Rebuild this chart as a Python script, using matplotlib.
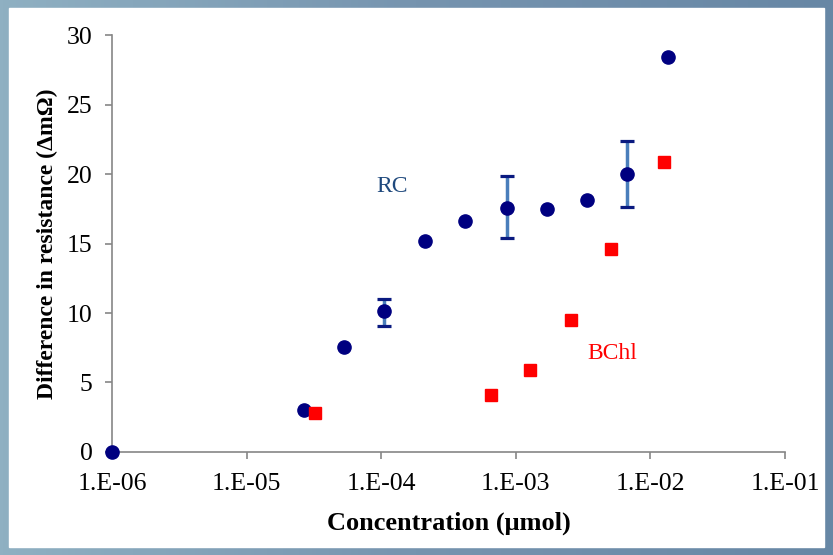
import matplotlib.pyplot as plt
import numpy as np
from matplotlib.patches import Rectangle
from matplotlib.colors import LinearSegmentedColormap

plt.rcParams['font.family'] = ['Liberation Serif', 'DejaVu Serif']

# RC series
rc_conc = [1e-6, 2.67e-5, 5.3e-5, 1.05e-4, 2.1e-4, 4.2e-4, 8.6e-4, 1.7e-3, 3.4e-3, 6.7e-3, 1.35e-2]
rc_resist = [0, 3.0, 7.55, 10.15, 15.2, 16.6, 17.55, 17.45, 18.1, 20.0, 28.45]

# RC error bars (only three points have them)
err_conc = [1.05e-4, 8.6e-4, 6.7e-3]
err_val = [10.15, 17.55, 20.0]
err_low = [1.1, 2.15, 2.4]
err_high = [0.85, 2.3, 2.4]

# BChl series
bchl_conc = [3.2e-5, 6.5e-4, 1.27e-3, 2.57e-3, 5.1e-3, 1.26e-2]
bchl_resist = [2.8, 4.1, 5.9, 9.5, 14.6, 20.9]

xticks = [1e-6, 1e-5, 1e-4, 1e-3, 1e-2, 1e-1]
xtick_labels = ['1.E-06', '1.E-05', '1.E-04', '1.E-03', '1.E-02', '1.E-01']

fig = plt.figure(figsize=(8.33, 5.55), dpi=100)

# bluish gradient background with white panel
bg = fig.add_axes([0, 0, 1, 1], zorder=-10)
grad = np.vstack([np.linspace(0, 1, 256)] * 2)
cmap = LinearSegmentedColormap.from_list('bg', ['#8fb0c2', '#7694af', '#6787a5'])
bg.imshow(grad, aspect='auto', cmap=cmap, extent=[0, 1, 0, 1])
bg.add_patch(Rectangle((9 / 833, 8 / 555), 815 / 833, 539 / 555, color='white'))
bg.set_xlim(0, 1)
bg.set_ylim(0, 1)
bg.axis('off')

ax = fig.add_axes([0.1345, 0.1856, 0.8079, 0.7513])
ax.patch.set_alpha(0)

ax.errorbar(err_conc, err_val, yerr=[err_low, err_high], fmt='none',
            ecolor='#4a7ebb', elinewidth=2.5, capsize=0, zorder=2)
# caps in navy
ax.errorbar(err_conc, err_val, yerr=[err_low, err_high], fmt='none',
            ecolor='#0a1a80', elinewidth=0, capsize=4.7, capthick=2.3, zorder=2)

ax.plot(rc_conc, rc_resist, 'o', color='#000080', markersize=9.5, clip_on=False, zorder=3)
ax.plot(bchl_conc, bchl_resist, 's', color='#ff0000', markersize=9, clip_on=False, zorder=3)

ax.text(1.2e-4, 19.1, 'RC', color='#1f497d', fontsize=17, ha='center', va='center')
ax.text(5.2e-3, 7.1, 'BChl', color='#ff0000', fontsize=17, ha='center', va='center')

ax.set_xscale('log')
ax.set_xlim(1e-6, 1e-1)
ax.set_ylim(0, 30)
ax.set_xticks(xticks)
ax.set_xticklabels(xtick_labels)
ax.minorticks_off()
ax.set_yticks([0, 5, 10, 15, 20, 25, 30])

for s in ['top', 'right']:
    ax.spines[s].set_visible(False)
for s in ['left', 'bottom']:
    ax.spines[s].set_color('#868686')
    ax.spines[s].set_linewidth(1.2)
ax.tick_params(axis='both', colors='#868686', length=5, width=1.2, labelsize=18.5,
               labelcolor='black')
ax.tick_params(axis='x', pad=10)
ax.tick_params(axis='y', pad=9)

ax.set_xlabel('Concentration (\u03bcmol)', fontsize=19, fontweight='bold', labelpad=12)
ax.set_ylabel('Difference in resistance (\u0394m\u03a9)', fontsize=17, fontweight='bold', labelpad=6)

plt.savefig('out.png', dpi=100)
